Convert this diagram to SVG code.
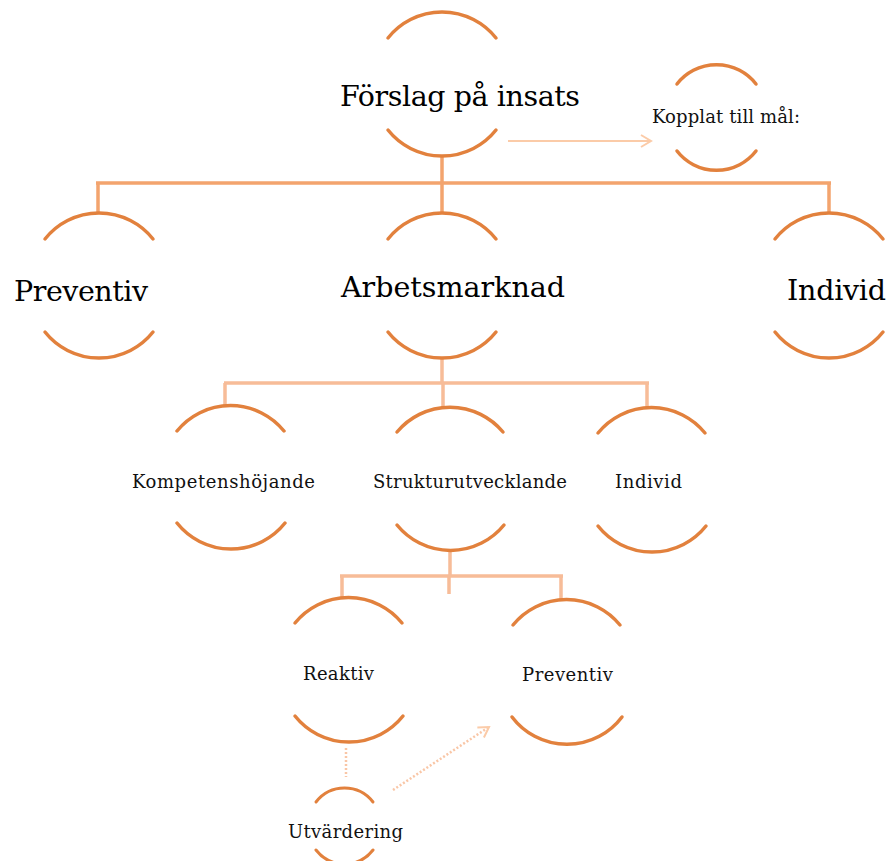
<svg xmlns="http://www.w3.org/2000/svg" width="888" height="861" viewBox="0 0 888 861">
<defs>
<style>
.arc{fill:none;stroke:#E2813D;stroke-width:3.5;stroke-linecap:round}
.l1{fill:none;stroke:#F3A46E;stroke-width:3.5}
.l2{fill:none;stroke:#F7BC98;stroke-width:3.5}
.dot{fill:none;stroke:#F9C6A6;stroke-width:2.5;stroke-dasharray:2 2}
.arr{fill:none;stroke:#FBCBA8;stroke-width:2}
.big{font-family:"DejaVu Serif","Liberation Serif",serif;font-size:28.5px;fill:#000}
.sm{font-family:"DejaVu Serif","Liberation Serif",serif;font-size:18px;fill:#111}
</style>
<marker id="chev" markerUnits="userSpaceOnUse" markerWidth="16" markerHeight="16" refX="12" refY="7" orient="auto" viewBox="0 0 16 14">
<path d="M2,1 L12,7 L2,13" fill="none" stroke="#FBCBA8" stroke-width="2"/>
</marker>
</defs>
<rect width="888" height="861" fill="#fff"/>
<g id="connectors">
<path class="l1" d="M442,156 V183 M96,183 H831 M98,183 V213 M442,183 V213 M829,183 V213"/>
<path class="l2" d="M442,357 V383 M224,383 H649 M225,383 V406 M443,383 V407 M647,383 V408"/>
<path class="l2" d="M450,550 V576 M340,576 H563 M342,576 V598 M561,576 V600 M449,576 V594"/>
<path class="arr" d="M508,141 H651" marker-end="url(#chev)"/>
<path class="dot" d="M346,748 V777"/>
<path class="dot" d="M393,790 L489,727" marker-end="url(#chev)"/>
</g>
<g id="node-forslag">
<path class="arc" d="M388,38 A69,69 0 0 1 496,38"/>
<path class="arc" d="M388,130 A69,69 0 0 0 496,130"/>
<text class="big" x="340" y="106" textLength="240">Förslag på insats</text>
</g>
<g id="node-kopplat">
<path class="arc" d="M677,84 A50,50 0 0 1 756,84"/>
<path class="arc" d="M677,151 A50,50 0 0 0 756,151"/>
<text class="sm" x="652" y="123" textLength="148">Kopplat till mål:</text>
</g>
<g id="node-preventiv1">
<path class="arc" d="M45,239 A69,69 0 0 1 153,239"/>
<path class="arc" d="M45,332 A69,69 0 0 0 153,332"/>
<text class="big" x="14" y="301" textLength="134">Preventiv</text>
</g>
<g id="node-arbetsmarknad">
<path class="arc" d="M388,239 A69,69 0 0 1 496,239"/>
<path class="arc" d="M388,332 A69,69 0 0 0 496,332"/>
<text class="big" x="341" y="297" textLength="224">Arbetsmarknad</text>
</g>
<g id="node-individ1">
<path class="arc" d="M775,239 A69,69 0 0 1 883,239"/>
<path class="arc" d="M775,332 A69,69 0 0 0 883,332"/>
<text class="big" x="787" y="300" textLength="99">Individ</text>
</g>
<g id="node-kompetens">
<path class="arc" d="M177,431 A69,69 0 0 1 284,431"/>
<path class="arc" d="M177,523 A69,69 0 0 0 285,523"/>
<text class="sm" x="132" y="488" textLength="183">Kompetenshöjande</text>
</g>
<g id="node-struktur">
<path class="arc" d="M397,432 A69,69 0 0 1 503,432"/>
<path class="arc" d="M397,525 A69,69 0 0 0 504,525"/>
<text class="sm" x="373" y="488" textLength="194">Strukturutvecklande</text>
</g>
<g id="node-individ2">
<path class="arc" d="M598,433 A69,69 0 0 1 705,433"/>
<path class="arc" d="M598,526 A69,69 0 0 0 706,526"/>
<text class="sm" x="615" y="488" textLength="67">Individ</text>
</g>
<g id="node-reaktiv">
<path class="arc" d="M295,623 A69,69 0 0 1 402,623"/>
<path class="arc" d="M295,716 A69,69 0 0 0 403,716"/>
<text class="sm" x="303" y="680" textLength="71">Reaktiv</text>
</g>
<g id="node-preventiv2">
<path class="arc" d="M513,625 A69,69 0 0 1 620,625"/>
<path class="arc" d="M512,717 A69,69 0 0 0 622,717"/>
<text class="sm" x="522" y="681" textLength="91">Preventiv</text>
</g>
<g id="node-utvardering">
<path class="arc" d="M316,802 A36,36 0 0 1 373,802" style="stroke-width:3"/>
<path class="arc" d="M316,850 A36,36 0 0 0 373,850" style="stroke-width:3"/>
<text class="sm" x="288" y="838" textLength="115">Utvärdering</text>
</g>
</svg>
